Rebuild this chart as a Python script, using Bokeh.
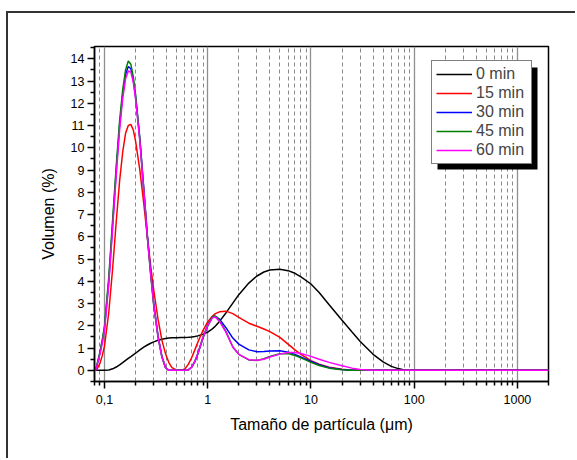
from bokeh.plotting import figure
from bokeh.models import (FixedTicker, Legend, LegendItem, BoxAnnotation, Range1d)
from bokeh.embed import file_html
from bokeh.resources import INLINE

# ---- data ----
sizes = [0.082, 0.085, 0.09, 0.095, 0.1, 0.11, 0.12, 0.13, 0.14, 0.15, 0.16, 0.17, 0.18, 0.19, 0.2,
         0.22, 0.24, 0.26, 0.28, 0.3, 0.33, 0.36, 0.39, 0.42, 0.45, 0.5, 0.55, 0.6, 0.65, 0.7, 0.75,
         0.8, 0.9, 1.0, 1.1, 1.15, 1.2, 1.3, 1.5, 1.75, 2.0, 2.5, 3.0, 3.5, 4.0, 5.0, 6.0, 7.0, 8.0,
         10, 12, 15, 20, 25, 30, 40, 50, 60, 70, 80, 90, 100, 2000]

vol_0 = [0, 0, 0, 0, 0, 0.02, 0.07, 0.15, 0.25, 0.35, 0.45, 0.54, 0.62, 0.7, 0.77,
         0.92, 1.04, 1.14, 1.22, 1.28, 1.35, 1.4, 1.43, 1.45, 1.46, 1.47, 1.48, 1.48, 1.49, 1.5, 1.52,
         1.55, 1.62, 1.72, 1.85, 1.93, 2.02, 2.2, 2.58, 3.02, 3.4, 3.92, 4.24, 4.42, 4.51, 4.54, 4.48, 4.36, 4.2,
         3.88, 3.5, 2.95, 2.25, 1.72, 1.3, 0.72, 0.38, 0.18, 0.08, 0.02, 0, 0, 0]

vol_15 = [0, 0.08, 0.3, 0.65, 1.1, 2.6, 4.6, 6.7, 8.5, 9.8, 10.65, 11.0, 11.05, 10.8, 10.3,
          9.0, 7.5, 6.0, 4.7, 3.6, 2.3, 1.35, 0.75, 0.35, 0.12, 0.01, 0, 0.06, 0.28, 0.58, 0.92,
          1.25, 1.8, 2.18, 2.42, 2.5, 2.56, 2.63, 2.66, 2.55, 2.38, 2.12, 1.98, 1.86, 1.74, 1.48, 1.18, 0.92, 0.72,
          0.44, 0.28, 0.14, 0.05, 0.01, 0, 0, 0, 0, 0, 0, 0, 0, 0]

vol_30 = [0, 0.28, 0.75, 1.3, 1.9, 4.0, 6.6, 9.0, 11.0, 12.4, 13.3, 13.65, 13.55, 13.05, 12.3,
          10.4, 8.2, 6.1, 4.4, 3.0, 1.55, 0.62, 0.13, 0, 0, 0, 0, 0, 0.02, 0.14, 0.4,
          0.72, 1.45, 2.0, 2.36, 2.43, 2.42, 2.3, 1.92, 1.45, 1.18, 0.92, 0.84, 0.85, 0.87, 0.88, 0.82, 0.72, 0.6,
          0.4, 0.25, 0.12, 0.04, 0.01, 0, 0, 0, 0, 0, 0, 0, 0, 0]

vol_45 = [0, 0.3, 0.8, 1.35, 2.0, 4.2, 6.8, 9.2, 11.2, 12.6, 13.5, 13.9, 13.75, 13.2, 12.4,
          10.4, 8.1, 6.0, 4.3, 2.9, 1.5, 0.6, 0.12, 0, 0, 0, 0, 0, 0.02, 0.15, 0.4,
          0.75, 1.5, 2.05, 2.38, 2.45, 2.42, 2.25, 1.75, 1.05, 0.72, 0.47, 0.44, 0.52, 0.62, 0.75, 0.76, 0.67, 0.56,
          0.36, 0.22, 0.1, 0.03, 0.01, 0, 0, 0, 0, 0, 0, 0, 0, 0]

vol_60 = [0, 0.25, 0.7, 1.2, 1.8, 3.9, 6.4, 8.8, 10.8, 12.2, 13.1, 13.45, 13.4, 12.95, 12.2,
          10.3, 8.1, 6.0, 4.35, 2.95, 1.5, 0.6, 0.12, 0, 0, 0, 0, 0, 0.02, 0.15, 0.4,
          0.74, 1.48, 2.02, 2.34, 2.4, 2.37, 2.2, 1.72, 1.05, 0.72, 0.48, 0.45, 0.5, 0.6, 0.73, 0.8, 0.8, 0.76,
          0.63, 0.5, 0.36, 0.21, 0.1, 0.04, 0, 0, 0, 0, 0, 0, 0, 0]

series_labels = ["0 min", "15 min", "30 min", "45 min", "60 min"]
series_colors = ["#000000", "#ff0000", "#0000ff", "#008000", "#ff00ff"]
series_values = [vol_0, vol_15, vol_30, vol_45, vol_60]

x_major = [0.1, 1, 10, 100, 1000]
x_labels = {0.1: "0,1", 1: "1", 10: "10", 100: "100", 1000: "1000"}
x_minor = [0.08, 0.09] + [m * d for d in (0.1, 1, 10, 100) for m in range(2, 10)] + [2000]
y_major = list(range(0, 15))
y_minor = [v + 0.5 for v in range(-1, 15)]

FONT = "Liberation Sans"

p = figure(width=569, height=447, x_axis_type="log", output_backend="svg",
           toolbar_location=None, x_range=Range1d(0.08, 2000), y_range=Range1d(-0.5, 14.55),
           min_border_left=86, min_border_right=29, min_border_top=33, min_border_bottom=79)
# outer frame of the picture: only its top and left sides fall inside the window
p.styles = {"margin-left": "8px", "margin-top": "13px",
            "box-shadow": "-2px -2px 0px 0px #333333"}

p.background_fill_color = "white"
p.border_fill_color = "white"
p.outline_line_color = "black"
p.outline_line_width = 1.5

renderers = []
for lab, col, vals in zip(series_labels, series_colors, series_values):
    r = p.line(sizes, vals, line_color=col, line_width=1.5)
    renderers.append((lab, r))

xt = FixedTicker(ticks=x_major, minor_ticks=x_minor)
p.xaxis.ticker = xt
p.xgrid.ticker = xt
p.xaxis.major_label_overrides = x_labels
p.xgrid.grid_line_color = "#8f8f8f"
p.xgrid.grid_line_width = 1.3
p.xgrid.minor_grid_line_color = "#8a8a8a"
p.xgrid.minor_grid_line_dash = "4 3"
p.xgrid.minor_grid_line_width = 1
p.ygrid.visible = False

p.yaxis.ticker = FixedTicker(ticks=y_major, minor_ticks=y_minor)

for ax in (p.xaxis[0], p.yaxis[0]):
    ax.axis_line_color = "black"
    ax.axis_line_width = 1.5
    ax.major_tick_line_color = "black"
    ax.minor_tick_line_color = "black"
    ax.major_tick_line_width = 1.5
    ax.minor_tick_line_width = 1.5
    ax.major_tick_in = 0
    ax.major_tick_out = 7
    ax.minor_tick_in = 0
    ax.minor_tick_out = 4
    ax.major_label_text_font = FONT
    ax.major_label_text_font_size = "12.5px"
    ax.major_label_text_color = "black"
    ax.axis_label_text_font = FONT
    ax.axis_label_text_font_size = "16px"
    ax.axis_label_text_font_style = "normal"
    ax.axis_label_text_color = "black"

p.xaxis.major_label_standoff = 6
p.yaxis.major_label_standoff = 3
p.xaxis.axis_label = "Tamaño de partícula (μm)"
p.yaxis.axis_label = "Volumen (%)"
p.xaxis.axis_label_standoff = 9
p.yaxis.axis_label_standoff = 11

# legend shadow (screen offsets measured from the frame's bottom-left corner)
shadow = BoxAnnotation(left=343, right=443, top=314, bottom=212,
                       left_units="screen", right_units="screen",
                       top_units="screen", bottom_units="screen",
                       fill_color="black", fill_alpha=1, line_alpha=0)
p.add_layout(shadow)

legend = Legend(items=[LegendItem(label=lab, renderers=[r]) for lab, r in renderers],
                location=(337, 217), padding=4, spacing=1, glyph_width=36, glyph_height=18,
                label_height=18, label_width=51, label_standoff=4, margin=0,
                label_text_font=FONT, label_text_font_size="16px",
                border_line_color="black", border_line_width=1,
                background_fill_color="white", background_fill_alpha=1)
p.add_layout(legend, "center")

open("out.html", "w").write(file_html(p, INLINE))
